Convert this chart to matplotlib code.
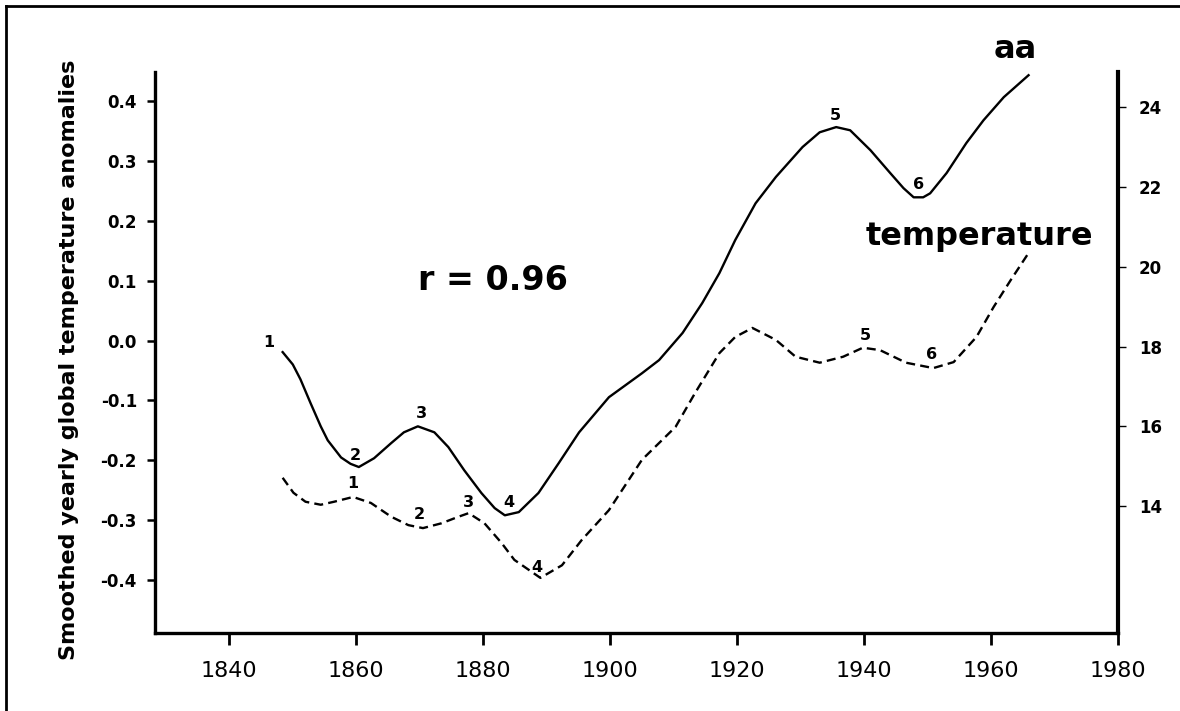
import matplotlib
matplotlib.use("Agg")
import matplotlib.pyplot as plt
from matplotlib.lines import Line2D

# values
aa_years = [1848.4, 1850.0, 1851.2, 1852.8, 1854.4, 1855.5, 1857.6, 1859.1, 1860.4,
            1862.8, 1865.5, 1867.5, 1869.7, 1872.3, 1874.5, 1877.0, 1879.7, 1881.8,
            1883.4, 1885.6, 1888.7, 1891.9, 1895.1, 1899.8, 1905.0, 1907.7, 1911.4,
            1914.5, 1917.2, 1919.7, 1922.9, 1926.1, 1930.3, 1933.0, 1935.6, 1937.8,
            1941.0, 1944.1, 1946.2, 1947.8, 1949.3, 1950.4, 1953.0, 1956.1, 1958.8,
            1962.0, 1965.9]
aa_values = [17.86, 17.55, 17.18, 16.58, 16.00, 15.65, 15.22, 15.06, 14.98,
             15.20, 15.58, 15.85, 16.00, 15.85, 15.48, 14.90, 14.33, 13.95,
             13.77, 13.85, 14.33, 15.08, 15.85, 16.73, 17.33, 17.66, 18.34,
             19.09, 19.84, 20.67, 21.59, 22.25, 23.00, 23.37, 23.50, 23.42,
             22.92, 22.35, 21.97, 21.74, 21.74, 21.84, 22.35, 23.10, 23.67,
             24.25, 24.80]

temp_years = [1848.4, 1850.1, 1852.0, 1854.4, 1856.5, 1859.5, 1862.3, 1865.5, 1868.2,
              1870.5, 1873.4, 1876.1, 1877.7, 1880.2, 1882.9, 1884.9, 1889.0, 1892.4,
              1895.5, 1899.8, 1905.0, 1910.3, 1913.4, 1917.2, 1919.7, 1922.4, 1926.1,
              1929.2, 1933.0, 1936.7, 1939.8, 1942.5, 1946.6, 1950.9, 1954.1, 1957.7,
              1960.4, 1963.1, 1965.9]
temp_values = [-0.229, -0.254, -0.269, -0.274, -0.269, -0.261, -0.271, -0.294, -0.308,
               -0.313, -0.305, -0.294, -0.288, -0.305, -0.338, -0.366, -0.396, -0.375,
               -0.333, -0.283, -0.199, -0.144, -0.087, -0.021, 0.006, 0.021, 0.001,
               -0.027, -0.037, -0.027, -0.012, -0.016, -0.037, -0.046, -0.036, 0.006,
               0.056, 0.101, 0.146]

# numbered extrema labels
aa_lab_x = [1846.2, 1859.9, 1870.2, 1884.0, 1935.4, 1948.5]
aa_lab_y = [18.09, 15.28, 16.33, 14.10, 23.80, 22.05]
temp_lab_x = [1859.5, 1869.9, 1877.7, 1888.4, 1940.2, 1950.6]
temp_lab_y = [-0.238, -0.291, -0.271, -0.378, 0.009, -0.024]
lab_text = ['1', '2', '3', '4', '5', '6']

left_ticks = [0.4, 0.3, 0.2, 0.1, 0.0, -0.1, -0.2, -0.3, -0.4]
left_labels = ['0.4', '0.3', '0.2', '0.1', '0.0', '-0.1', '-0.2', '-0.3', '-0.4']
right_ticks = [14, 16, 18, 20, 22, 24]
x_ticks = [1840, 1860, 1880, 1900, 1920, 1940, 1960, 1980]

fig = plt.figure(figsize=(11.8, 7.11), dpi=100)
ax = fig.add_axes([0.1314, 0.1097, 0.8161, 0.789])
ax2 = ax.twinx()

ax.plot(temp_years, temp_values, color='black', lw=1.7, dashes=(3.8, 2.2))
ax2.plot(aa_years, aa_values, color='black', lw=1.7)

for t, x, y in zip(lab_text, temp_lab_x, temp_lab_y):
    ax.text(x, y, t, ha='center', va='center', fontsize=11.5, fontweight='bold')
for t, x, y in zip(lab_text, aa_lab_x, aa_lab_y):
    ax2.text(x, y, t, ha='center', va='center', fontsize=11.5, fontweight='bold')

ax.set_xlim(1828.3, 1980)
ax.set_ylim(-0.488, 0.448)
ax2.set_ylim(10.82, 24.88)

ax.set_xticks(x_ticks, [str(v) for v in x_ticks], fontsize=16)
ax.set_yticks(left_ticks, left_labels, fontsize=12, fontweight='bold')
ax2.set_yticks(right_ticks, [str(v) for v in right_ticks], fontsize=12, fontweight='bold')

ax.tick_params(axis='x', direction='out', length=8.5, width=2, pad=12)
ax.tick_params(axis='y', direction='out', length=6, width=1.8, pad=7)
ax2.tick_params(axis='y', direction='out', length=6, width=1, pad=9)

for s in ['top', 'right']:
    ax.spines[s].set_visible(False)
for s in ['top', 'left', 'bottom']:
    ax2.spines[s].set_visible(False)
ax.spines['left'].set_linewidth(2.4)
ax.spines['bottom'].set_linewidth(2.4)
ax2.spines['right'].set_linewidth(3)

ax.set_ylabel('Smoothed yearly global temperature anomalies', fontsize=16, fontweight='bold')
ax.yaxis.set_label_coords(-0.079, 0.487)

ax.text(1963.8, 0.472, 'aa', ha='center', va='baseline', fontsize=23, fontweight='bold', clip_on=False)
ax.text(1940.2, 0.160, 'temperature', ha='left', va='baseline', fontsize=23, fontweight='bold')
ax.text(1869.7, 0.0845, 'r = 0.96', ha='left', va='baseline', fontsize=24, fontweight='bold')

# frame around the picture (only left and top edges show)
fig.add_artist(Line2D([6 / 1180, 6 / 1180], [0, 1 - 6 / 711], transform=fig.transFigure, color='black', lw=2))
fig.add_artist(Line2D([6 / 1180, 1], [1 - 6 / 711, 1 - 6 / 711], transform=fig.transFigure, color='black', lw=2))

fig.savefig('out.png', dpi=100)
